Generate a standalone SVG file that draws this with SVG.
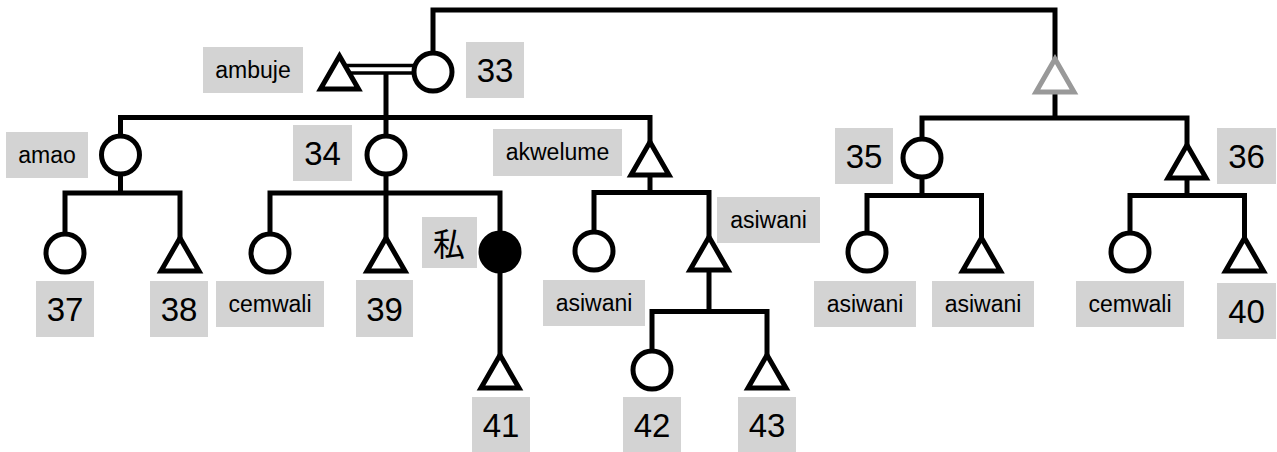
<svg xmlns="http://www.w3.org/2000/svg" width="1277" height="452" viewBox="0 0 1277 452">
  <style>
    .ln { fill: none; stroke: #000; stroke-width: 5; stroke-linejoin: miter; }
    .dbl { fill: none; stroke: #000; stroke-width: 3.6; }
    .f { fill: #fff; stroke: #000; stroke-width: 5; stroke-linejoin: miter; }
    .g { fill: #fff; stroke: #999; stroke-width: 5; stroke-linejoin: miter; }
    .ego { fill: #000; stroke: #000; stroke-width: 5; }
    .lb { fill: #d3d3d3; }
    .w { font-family: "Liberation Sans", Arial, sans-serif; font-size: 23px; fill: #000; text-anchor: middle; }
    .n { font-family: "Liberation Sans", Arial, sans-serif; font-size: 33px; fill: #000; text-anchor: middle; }
    .k { font-family: "Noto Sans CJK JP", "Noto Sans CJK SC", sans-serif; font-size: 32px; fill: #000; text-anchor: middle; }
  </style>
  <defs>
    <!-- male symbol, apex at origin -->
    <path id="tri" d="M0,0 L19,33 L-19,33 Z"/>
  </defs>

  <!-- lines of descent and marriage -->
  <g id="connectors">
    <path class="ln" d="M433,53 V10 H1055 V59"/>
    <line class="dbl" x1="340" y1="65.5" x2="414" y2="65.5"/>
    <line class="dbl" x1="340" y1="73" x2="414" y2="73"/>
    <path class="ln" d="M386,74 V136"/>
    <path class="ln" d="M120.5,136 V117.5 H650 V142"/>
    <path class="ln" d="M1055,92 V118"/>
    <path class="ln" d="M922,139 V118 H1187 V145"/>
    <path class="ln" d="M120.5,174 V193"/>
    <path class="ln" d="M65,234 V193 H180 V238"/>
    <path class="ln" d="M386,174 V238"/>
    <path class="ln" d="M270,234 V193 H500 V233"/>
    <path class="ln" d="M500,271 V355"/>
    <path class="ln" d="M650,175 V192.5"/>
    <path class="ln" d="M594,232 V192.5 H709 V237"/>
    <path class="ln" d="M709,270 V311.5"/>
    <path class="ln" d="M652,351 V311.5 H767 V355"/>
    <path class="ln" d="M922,177 V195.5"/>
    <path class="ln" d="M867,233 V195.5 H981.5 V238"/>
    <path class="ln" d="M1187,178 V195.5"/>
    <path class="ln" d="M1130,233 V195.5 H1244.5 V238"/>
  </g>

  <g id="n-ambuje">
    <use href="#tri" class="f" x="339.5" y="56"/>
    <rect class="lb" x="203" y="47" width="100" height="46"/>
    <text class="w" x="253" y="77.5">ambuje</text>
  </g>
  <g id="n-33">
    <circle class="f" cx="433" cy="72" r="19"/>
    <rect class="lb" x="466" y="42" width="58" height="56"/>
    <text class="n" x="495" y="82">33</text>
  </g>
  <g id="n-grey">
    <use href="#tri" class="g" x="1055" y="59"/>
  </g>
  <g id="n-amao">
    <circle class="f" cx="120.5" cy="155" r="19"/>
    <rect class="lb" x="6" y="132" width="82" height="46"/>
    <text class="w" x="47" y="162.5">amao</text>
  </g>
  <g id="n-34">
    <circle class="f" cx="386" cy="155" r="19"/>
    <rect class="lb" x="293" y="125" width="59" height="56"/>
    <text class="n" x="322.5" y="165">34</text>
  </g>
  <g id="n-akwelume">
    <use href="#tri" class="f" x="650" y="142"/>
    <rect class="lb" x="493" y="129" width="129" height="47"/>
    <text class="w" x="557.5" y="160">akwelume</text>
  </g>
  <g id="n-35">
    <circle class="f" cx="922" cy="158" r="19"/>
    <rect class="lb" x="835" y="128" width="58" height="56"/>
    <text class="n" x="864" y="168">35</text>
  </g>
  <g id="n-36">
    <use href="#tri" class="f" x="1187" y="145"/>
    <rect class="lb" x="1217" y="128" width="59" height="56"/>
    <text class="n" x="1246.5" y="168">36</text>
  </g>
  <g id="n-37">
    <circle class="f" cx="65" cy="253" r="19"/>
    <rect class="lb" x="36" y="281" width="58" height="56"/>
    <text class="n" x="65" y="321">37</text>
  </g>
  <g id="n-38">
    <use href="#tri" class="f" x="180" y="238"/>
    <rect class="lb" x="150" y="281" width="58" height="56"/>
    <text class="n" x="179" y="321">38</text>
  </g>
  <g id="n-cemwali-1">
    <circle class="f" cx="270" cy="253" r="19"/>
    <rect class="lb" x="216" y="281" width="108" height="46"/>
    <text class="w" x="270" y="311.5">cemwali</text>
  </g>
  <g id="n-39">
    <use href="#tri" class="f" x="386" y="238"/>
    <rect class="lb" x="356" y="280" width="57" height="57"/>
    <text class="n" x="384.5" y="320.5">39</text>
  </g>
  <g id="n-ego">
    <circle class="ego" cx="500" cy="252" r="19"/>
    <rect class="lb" x="422" y="217" width="55" height="51"/>
    <text class="k" x="449" y="256">私</text>
  </g>
  <g id="n-41">
    <use href="#tri" class="f" x="500" y="355"/>
    <rect class="lb" x="472" y="397" width="58" height="55"/>
    <text class="n" x="501" y="436.5">41</text>
  </g>
  <g id="n-asiwani-1">
    <circle class="f" cx="594" cy="251" r="19"/>
    <rect class="lb" x="543" y="280" width="102" height="46"/>
    <text class="w" x="594" y="310.5">asiwani</text>
  </g>
  <g id="n-asiwani-2">
    <use href="#tri" class="f" x="709" y="237"/>
    <rect class="lb" x="717" y="197" width="103" height="46"/>
    <text class="w" x="768.5" y="227.5">asiwani</text>
  </g>
  <g id="n-42">
    <circle class="f" cx="652" cy="370" r="19"/>
    <rect class="lb" x="623" y="397" width="58" height="55"/>
    <text class="n" x="652" y="436.5">42</text>
  </g>
  <g id="n-43">
    <use href="#tri" class="f" x="767" y="355"/>
    <rect class="lb" x="738" y="397" width="58" height="55"/>
    <text class="n" x="767" y="436.5">43</text>
  </g>
  <g id="n-asiwani-3">
    <circle class="f" cx="867" cy="252" r="19"/>
    <rect class="lb" x="814" y="281" width="102" height="46"/>
    <text class="w" x="865" y="311.5">asiwani</text>
  </g>
  <g id="n-asiwani-4">
    <use href="#tri" class="f" x="981.5" y="238"/>
    <rect class="lb" x="932" y="281" width="102" height="46"/>
    <text class="w" x="983" y="311.5">asiwani</text>
  </g>
  <g id="n-cemwali-2">
    <circle class="f" cx="1130" cy="252" r="19"/>
    <rect class="lb" x="1076" y="281" width="108" height="46"/>
    <text class="w" x="1130" y="311.5">cemwali</text>
  </g>
  <g id="n-40">
    <use href="#tri" class="f" x="1244.5" y="238"/>
    <rect class="lb" x="1217" y="283" width="59" height="56"/>
    <text class="n" x="1246.5" y="323">40</text>
  </g>
</svg>
